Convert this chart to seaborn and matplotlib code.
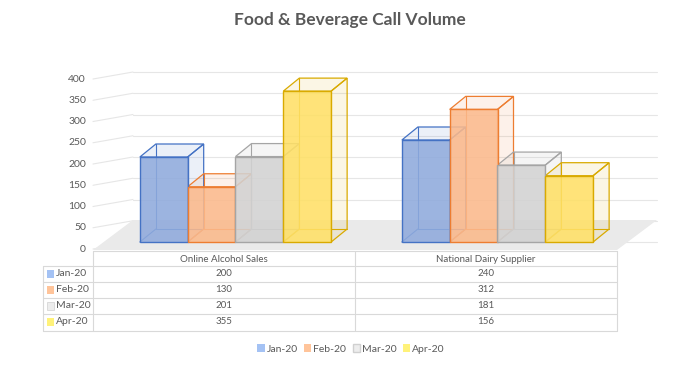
import numpy as np
import pandas as pd
import seaborn as sns
import matplotlib.pyplot as plt
from matplotlib.patches import Polygon, Patch, Rectangle
from matplotlib.lines import Line2D
from matplotlib.colors import to_rgba

# chart data
categories = ["Online Alcohol Sales", "National Dairy Supplier"]
months = ["Jan-20", "Feb-20", "Mar-20", "Apr-20"]
jan = [200, 240]
feb = [130, 312]
mar = [201, 181]
apr = [355, 156]
y_ticks = [0, 50, 100, 150, 200, 250, 300, 350, 400]

face_colors = ["#8FAADC", "#FBB98B", "#D2D2D2", "#FFE066"]
edge_colors = ["#4472C4", "#ED7D31", "#A5A5A5", "#D9AA00"]
swatch_colors = ["#A4C2F4", "#FFC49A", "#EDEDED", "#FFF27A"]
text_color = "#595959"
line_color = "#D9D9D9"

sns.set_theme(style="white")
plt.rcParams["font.family"] = ["Lato", "DejaVu Sans"]

df = pd.DataFrame({
    "category": categories * 4,
    "month": np.repeat(months, 2),
    "value": jan + feb + mar + apr,
})

W, H = 700, 367
fig = plt.figure(figsize=(7, 3.67), dpi=100)
ax = fig.add_axes([90 / W, 1 - 252 / H, 570 / W, 192 / H])


# pixel -> data helpers for the 3d decoration
def px(p):
    return (p - 235.5) / 262


def py(p):
    return (242 - p) / 0.425


def fx(p):
    return p / W


def fy(p):
    return 1 - p / H


DX = 16 / 262
DY = 13 / 0.425

# bars (front faces)
sns.barplot(data=df, x="category", y="value", hue="month", palette=face_colors,
            width=0.73, saturation=1, legend=False, ax=ax, zorder=3)
ax.set_xlim(px(90), px(660))
ax.set_ylim(py(252), py(60))
ax.set_axis_off()

# floor
ax.add_patch(Polygon([(px(93), py(250)), (px(617), py(250)), (px(657), py(220)),
                      (px(133), py(220))], closed=True, facecolor="#EAEAEA",
                     edgecolor="none", zorder=1))

# back wall gridlines + left wall diagonals + tick labels
for v in y_ticks:
    ax.plot([px(133), px(657)], [v, v], color="#E6E6E6", lw=0.8, zorder=0.5)
    ax.plot([px(93), px(133)], [v - 16.5, v], color="#E6E6E6", lw=0.8, zorder=0.5)
    ax.text(px(86), v - 16.5, str(v), ha="right", va="center", fontsize=7.5,
            color=text_color, clip_on=False)

# 3d boxes
for i, cont in enumerate(ax.containers):
    ec = edge_colors[i]
    for bar in cont:
        x0, w, h = bar.get_x(), bar.get_width(), bar.get_height()
        bar.set_facecolor(to_rgba(face_colors[i], 0.88))
        bar.set_edgecolor(ec)
        bar.set_linewidth(1.0)
        side = [(x0 + w, 0), (x0 + w + DX, DY), (x0 + w + DX, h + DY), (x0 + w, h)]
        top = [(x0, h), (x0 + w, h), (x0 + w + DX, h + DY), (x0 + DX, h + DY)]
        for poly in (side, top):
            ax.add_patch(Polygon(poly, closed=True, facecolor=to_rgba(ec, 0.1),
                                 edgecolor=ec, lw=0.9, zorder=2))
        ax.plot([x0 + DX, x0 + DX], [DY, h + DY], color=ec, lw=0.8, zorder=2)
        ax.plot([x0 + DX, x0 + w + DX], [DY, DY], color=ec, lw=0.8, zorder=2)
        ax.plot([x0, x0 + DX], [0, DY], color=ec, lw=0.8, zorder=2)

# data table
def hline(y, x1, x2):
    fig.add_artist(Line2D([fx(x1), fx(x2)], [fy(y), fy(y)], color=line_color, lw=0.8))


def vline(x, y1, y2):
    fig.add_artist(Line2D([fx(x), fx(x)], [fy(y1), fy(y2)], color=line_color, lw=0.8))


hline(251, 93, 617)
for y in [266, 282, 298, 314, 331]:
    hline(y, 43, 617)
for x in [93, 355, 617]:
    vline(x, 251, 331)
vline(43, 266, 331)

col_x = [224, 486]
for c, name in enumerate(categories):
    fig.text(fx(col_x[c]), fy(259), name, ha="center", va="center", fontsize=7,
             color=text_color)

series = [jan, feb, mar, apr]
row_y = [274, 290, 306, 322]
for r, m in enumerate(months):
    fig.add_artist(Rectangle((fx(47), fy(row_y[r] + 4)), 7 / W, 8 / H,
                             facecolor=swatch_colors[r], edgecolor="#D0D0D0" if r == 2 else "none",
                             lw=0.5, transform=fig.transFigure))
    fig.text(fx(56), fy(row_y[r]), m, ha="left", va="center", fontsize=7.5,
             color=text_color)
    for c in range(2):
        fig.text(fx(col_x[c]), fy(row_y[r]), str(series[r][c]), ha="center",
                 va="center", fontsize=7, color=text_color)

# legend
handles = [Patch(facecolor=swatch_colors[i], edgecolor="#D0D0D0" if i == 2 else "none",
                 label=m) for i, m in enumerate(months)]
fig.legend(handles=handles, loc="center", bbox_to_anchor=(fx(351), fy(349)), ncol=4,
           frameon=False, fontsize=7.5, handlelength=0.7, handleheight=0.7,
           handletextpad=0.2, columnspacing=0.6, labelcolor=text_color)

# title
fig.text(fx(350), fy(20), "Food & Beverage Call Volume", ha="center", va="center",
         fontsize=12.5, fontweight="bold", color=text_color)

fig.savefig("out.png", dpi=100)
